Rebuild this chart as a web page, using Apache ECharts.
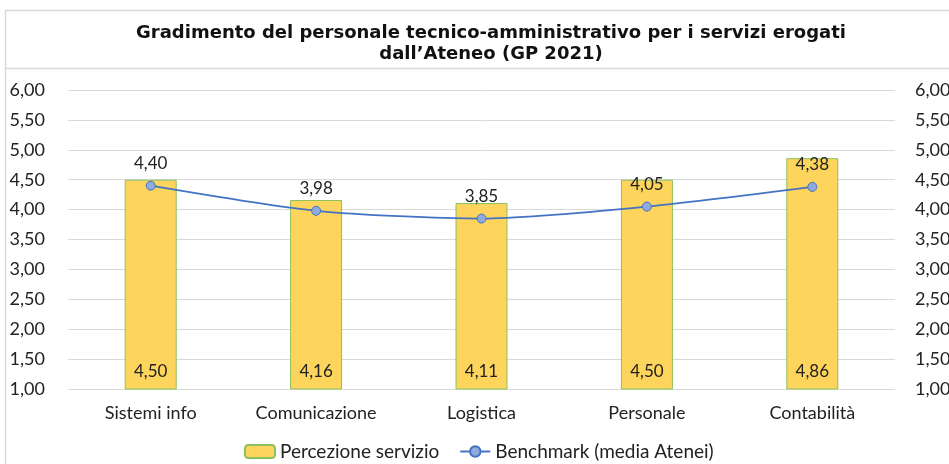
<!DOCTYPE html>
<html>
<head>
<meta charset="utf-8">
<script src="https://cdn.jsdelivr.net/npm/echarts@6/dist/echarts.min.js"></script>
<style>
  html, body { margin: 0; padding: 0; background: #fff; }
  #chart { width: 949px; height: 464px; }
</style>
</head>
<body>
<div id="chart"></div>
<script>
const categories = ['Sistemi info', 'Comunicazione', 'Logistica', 'Personale', 'Contabilità']
const percezione = [4.50, 4.16, 4.11, 4.50, 4.86]
const benchmark = [4.40, 3.98, 3.85, 4.05, 4.38]
const axisMin = 1
const axisMax = 6
const axisStep = 0.5

const fmt = v => Number(v).toFixed(2).replace('.', ',')
const labelFont = 'Lato, "Open Sans", sans-serif'

const chart = echarts.init(document.getElementById('chart'))

const yAxisBase = {
  type: 'value',
  min: axisMin,
  max: axisMax,
  interval: axisStep,
  axisLine: { show: false },
  axisTick: { show: false }
}

chart.setOption({
  animation: false,
  title: {
    text: 'Gradimento del personale tecnico-amministrativo per i servizi erogati\ndall’Ateneo (GP 2021)',
    left: 486,
    top: 18,
    textAlign: 'center',
    textStyle: {
      fontFamily: '"DejaVu Sans", Verdana, sans-serif',
      fontWeight: 'bold',
      fontSize: 18,
      lineHeight: 21,
      color: '#111'
    }
  },
  graphic: [
    { type: 'line', shape: { x1: 5, y1: 10.5, x2: 949, y2: 10.5 }, style: { stroke: '#d9d9d9', lineWidth: 1.5 } },
    { type: 'line', shape: { x1: 5.5, y1: 10, x2: 5.5, y2: 464 }, style: { stroke: '#d9d9d9', lineWidth: 1.5 } },
    { type: 'line', shape: { x1: 5, y1: 68.5, x2: 949, y2: 68.5 }, style: { stroke: '#d9d9d9', lineWidth: 1.5 } }
  ],
  grid: { left: 68, right: 54, top: 90, bottom: 75, outerBoundsMode: 'none', containLabel: false },
  legend: {
    bottom: -2,
    left: 239,
    itemWidth: 30,
    itemHeight: 13,
    itemGap: 20,
    textStyle: { fontFamily: labelFont, fontSize: 19, color: '#222' },
    data: [
      { name: 'Percezione servizio' },
      { name: 'Benchmark (media Atenei)' }
    ]
  },
  xAxis: {
    type: 'category',
    data: categories,
    axisLine: { show: false },
    axisTick: { show: false },
    axisLabel: { fontFamily: labelFont, fontSize: 18, color: '#222', margin: 15 }
  },
  yAxis: [
    Object.assign({}, yAxisBase, {
      position: 'left',
      splitLine: { lineStyle: { color: '#d9d9d9', width: 1 } },
      axisLabel: { formatter: fmt, fontFamily: labelFont, fontSize: 18, color: '#222', margin: 23 }
    }),
    Object.assign({}, yAxisBase, {
      position: 'right',
      splitLine: { show: false },
      axisLabel: { formatter: fmt, fontFamily: labelFont, fontSize: 18, color: '#222', margin: 20 }
    })
  ],
  series: [
    {
      name: 'Percezione servizio',
      type: 'bar',
      data: percezione,
      yAxisIndex: 0,
      barWidth: 52,
      itemStyle: { color: '#fdd55c', borderColor: '#8cc05c', borderWidth: 1 },
      label: {
        show: true,
        position: 'insideBottom',
        distance: 9,
        formatter: p => fmt(p.value),
        fontFamily: labelFont,
        fontSize: 17,
        color: '#222'
      }
    },
    {
      name: 'Benchmark (media Atenei)',
      type: 'line',
      data: benchmark,
      yAxisIndex: 1,
      smooth: 0.25,
      symbol: 'circle',
      symbolSize: 9,
      lineStyle: { color: '#4472c4', width: 1.8 },
      itemStyle: { color: '#8faadc', borderColor: '#4472c4', borderWidth: 1 },
      label: {
        show: true,
        position: 'top',
        distance: 9,
        formatter: p => fmt(p.value),
        fontFamily: labelFont,
        fontSize: 17,
        color: '#222'
      }
    }
  ]
})
</script>
</body>
</html>
